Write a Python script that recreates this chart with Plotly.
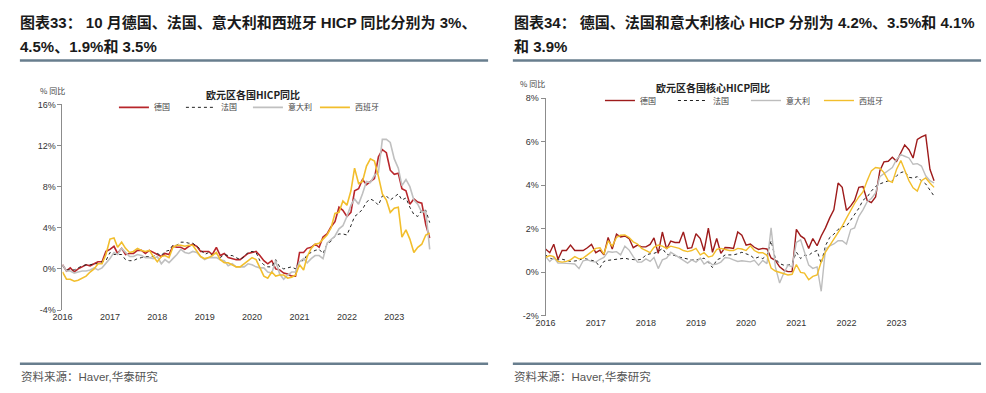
import pandas as pd
import plotly.graph_objects as go

dates = pd.date_range("2016-01-01", periods=94, freq="MS").strftime("%Y-%m-%d").tolist()

# ---- HICP yoy (%), left panel ----
de_hicp = [0.4, -0.2, 0.1, -0.3, 0.0, 0.2, 0.4, 0.3, 0.5, 0.7, 0.7, 1.7,
           1.9, 2.2, 1.5, 2.0, 1.4, 1.5, 1.5, 1.8, 1.8, 1.5, 1.8, 1.6,
           1.4, 1.2, 1.5, 1.4, 2.2, 2.1, 2.1, 1.9, 2.2, 2.4, 2.2, 1.7,
           1.7, 1.7, 1.4, 2.1, 1.3, 1.5, 1.1, 1.0, 0.9, 0.9, 1.2, 1.5,
           1.6, 1.7, 1.3, 0.8, 0.5, 0.8, 0.0, -0.1, -0.4, -0.5, -0.7, -0.7,
           1.6, 1.6, 2.0, 2.1, 2.4, 2.1, 3.1, 3.4, 4.1, 4.6, 6.0, 5.7,
           5.1, 5.5, 7.6, 7.8, 8.7, 8.2, 8.5, 8.8, 10.9, 11.6, 11.3, 9.6,
           9.2, 9.3, 7.8, 7.6, 6.3, 6.8, 6.5, 6.4, 4.3, 3.0]
fr_hicp = [0.3, -0.1, -0.1, -0.1, 0.1, 0.3, 0.4, 0.4, 0.5, 0.5, 0.7, 0.8,
           1.6, 1.4, 1.4, 1.4, 0.9, 0.8, 0.8, 1.0, 1.1, 1.2, 1.2, 1.2,
           1.5, 1.3, 1.7, 1.8, 2.3, 2.3, 2.6, 2.6, 2.5, 2.5, 2.2, 1.9,
           1.4, 1.6, 1.3, 1.5, 1.1, 1.4, 1.3, 1.3, 1.1, 0.9, 1.2, 1.6,
           1.7, 1.6, 0.8, 0.4, 0.2, 0.2, 0.9, 0.2, 0.0, 0.1, 0.2, 0.0,
           0.8, 0.8, 1.4, 1.6, 1.8, 1.9, 1.5, 2.4, 2.7, 3.2, 3.4, 3.4,
           3.3, 4.2, 5.1, 5.4, 5.8, 6.5, 6.8, 6.6, 6.2, 7.1, 7.1, 6.7,
           7.0, 7.3, 6.7, 6.9, 6.0, 5.3, 5.1, 5.7, 5.7, 4.5]
it_hicp = [0.4, -0.2, -0.2, -0.4, -0.3, -0.2, -0.2, -0.1, 0.1, -0.1, 0.1, 0.5,
           1.0, 1.6, 1.4, 2.0, 1.6, 1.2, 1.2, 1.4, 1.3, 1.1, 1.1, 1.0,
           1.2, 0.5, 0.9, 0.6, 1.0, 1.4, 1.9, 1.6, 1.5, 1.7, 1.6, 1.2,
           0.9, 1.1, 1.1, 1.1, 0.9, 0.8, 0.3, 0.5, 0.2, 0.2, 0.2, 0.5,
           0.4, 0.2, 0.1, 0.1, -0.3, -0.4, 0.8, -0.5, -1.0, -0.6, -0.3, -0.3,
           0.7, 1.0, 0.6, 1.0, 1.3, 1.3, 1.0, 2.5, 2.9, 3.2, 3.9, 4.2,
           5.1, 6.2, 6.8, 6.3, 7.3, 8.5, 8.4, 9.1, 9.4, 12.6, 12.6, 12.3,
           10.7, 9.8, 8.1, 8.7, 8.0, 6.7, 6.3, 5.5, 5.6, 1.9]
es_hicp = [-0.3, -1.0, -1.0, -1.2, -1.1, -0.9, -0.7, -0.3, 0.0, 0.5, 0.5, 1.4,
           2.9, 3.0, 2.1, 2.6, 2.0, 1.6, 1.7, 2.0, 1.8, 1.7, 1.8, 1.2,
           0.7, 1.2, 1.3, 1.1, 2.1, 2.3, 2.3, 2.2, 2.3, 2.3, 1.7, 1.2,
           1.0, 1.1, 1.3, 1.6, 0.9, 0.6, 0.6, 0.4, 0.2, 0.2, 0.5, 0.8,
           1.1, 0.9, 0.1, -0.7, -0.9, -0.3, -0.7, -0.6, -0.6, -0.9, -0.8, -0.6,
           0.4, -0.1, 1.2, 2.0, 2.4, 2.5, 2.9, 3.3, 4.0, 5.4, 5.5, 6.6,
           6.2, 7.6, 9.8, 8.3, 8.5, 10.0, 10.7, 10.5, 9.0, 7.3, 6.7, 5.5,
           5.9, 6.0, 3.1, 3.8, 2.9, 1.6, 2.1, 2.4, 3.3, 3.5]

# ---- Core HICP yoy (%), right panel ----
de_core = [1.07, 0.9, 1.29, 0.6, 1.0, 1.0, 1.25, 1.0, 1.0, 1.0, 1.13, 1.28,
           0.9, 1.02, 0.8, 1.6, 1.07, 1.75, 1.62, 1.67, 1.55, 1.13, 1.25, 1.17,
           1.17, 1.28, 1.58, 0.87, 1.85, 1.07, 1.43, 1.37, 1.37, 1.85, 1.1, 1.13,
           1.77, 1.55, 0.98, 2.03, 0.92, 1.55, 0.87, 1.14, 1.13, 1.1, 1.85, 1.7,
           1.25, 1.3, 1.15, 1.05, 1.1, 1.07, 0.66, 0.55, 0.25, 0.1, 0.03, 0.03,
           1.97, 1.67, 1.55, 1.1, 1.55, 1.22, 1.67, 2.04, 2.5, 2.87, 4.1, 3.9,
           2.84, 3.05, 3.3, 3.9, 3.94, 3.3, 3.2, 3.46, 4.66, 5.07, 5.1, 5.28,
           5.1, 5.48, 5.85, 5.63, 5.25, 6.1, 6.22, 6.3, 4.73, 4.2]
fr_core = [0.8, 0.65, 0.6, 0.57, 0.6, 0.55, 0.5, 0.52, 0.55, 0.65, 0.6, 0.57,
           0.5, 0.22, 0.5, 0.55, 0.57, 0.6, 0.62, 0.65, 0.6, 0.57, 0.57, 0.6,
           0.8, 0.85, 0.87, 0.95, 1.1, 0.83, 0.8, 0.77, 0.7, 0.65, 0.6, 0.57,
           0.57, 0.6, 0.65, 0.45, 0.22, 0.57, 0.65, 0.8, 0.8, 0.8, 0.85, 0.92,
           0.85, 0.78, 0.63, 0.7, 0.63, 0.78, 1.45, 0.63, 0.4, 0.33, 0.33, 0.4,
           0.93, 0.63, 0.78, 0.78, 0.93, 1.0, 0.4, 1.22, 1.6, 1.75, 1.97, 2.09,
           2.12, 2.42, 2.64, 2.94, 3.31, 3.46, 3.73, 3.94, 4.06, 4.13, 4.2, 4.2,
           4.43, 4.58, 4.63, 4.36, 4.33, 4.39, 4.2, 4.06, 3.76, 3.5]
it_core = [0.72, 0.5, 0.68, 0.42, 0.42, 0.42, 0.4, 0.38, 0.17, 0.53, 0.57, 0.5,
           0.47, 0.6, 0.68, 0.95, 0.92, 0.95, 0.8, 1.2, 1.02, 0.72, 0.47, 0.47,
           0.62, 0.5, 0.68, 0.17, 0.57, 0.65, 0.92, 0.8, 0.68, 0.57, 0.42, 0.57,
           0.47, 0.65, 0.38, 0.5, 0.35, 0.38, 0.47, 0.68, 0.65, 0.57, 0.5, 0.53,
           0.5, 0.48, 0.55, 0.33, 0.55, 0.4, 2.04, 0.25, -0.49, -0.04, 0.33, 0.25,
           1.37, 1.49, 0.93, 0.33, 0.18, 0.25, -0.87, 1.07, 1.22, 1.3, 1.45, 1.45,
           1.3, 1.97, 2.04, 2.57, 2.87, 3.24, 3.39, 3.64, 4.39, 4.54, 4.69, 4.81,
           5.18, 5.4, 5.33, 5.25, 4.96, 4.99, 4.88, 4.43, 4.21, 4.1]
es_core = [0.68, 0.77, 0.72, 0.5, 0.47, 0.5, 0.57, 0.72, 0.62, 0.65, 0.8, 0.95,
           1.1, 1.13, 0.83, 1.45, 1.2, 1.6, 1.7, 1.72, 1.6, 1.4, 1.3, 1.1,
           1.0, 0.9, 1.15, 1.25, 1.2, 1.1, 1.2, 1.15, 1.1, 1.0, 0.95, 1.0,
           1.1, 0.8, 0.9, 0.7, 0.75, 1.05, 1.1, 1.05, 1.0, 1.0, 1.1, 1.07,
           1.0, 1.22, 1.0, 0.9, 0.9, 0.78, 0.2, 0.06, 0.0, -0.04, -0.12, -0.09,
           0.36, 0.0, -0.04, -0.34, -0.19, -0.12, 0.48, 0.93, 1.22, 1.52, 1.82, 2.12,
           2.49, 2.87, 3.16, 3.46, 3.69, 4.21, 4.66, 4.81, 4.78, 4.58, 4.21, 4.13,
           4.73, 5.13, 4.66, 4.21, 3.88, 3.73, 4.21, 4.33, 4.1, 3.9]

names = ["德国", "法国", "意大利", "西班牙"]
year_ticks = [f"{y}-01-01" for y in range(2016, 2024)]
year_labels = [str(y) for y in range(2016, 2024)]
left_yticks = [-4, 0, 4, 8, 12, 16]
right_yticks = [-2, 0, 2, 4, 6, 8]

W, H = 986, 393
def px(x): return x / W
def py(y): return (H - y) / H

CJK = "Noto Sans CJK SC"
LAT = "Liberation Sans, Arial, Noto Sans CJK SC"
GRAY_AX = "#8c8c8c"

fig = go.Figure()

left_styles = [dict(color="#B8262B", width=1.6),
               dict(color="#222222", width=1, dash="dot"),
               dict(color="#C0C0C0", width=1.6),
               dict(color="#F2BE2C", width=1.6)]
right_styles = [dict(color="#9E1B1B", width=1.4),
                dict(color="#222222", width=1, dash="dot"),
                dict(color="#BDBDBD", width=1.4),
                dict(color="#F2BE2C", width=1.4)]

for nm, vals, st in zip(names, [de_hicp, fr_hicp, it_hicp, es_hicp], left_styles):
    fig.add_trace(go.Scatter(x=dates, y=vals, mode="lines", name=nm, line=st,
                             xaxis="x", yaxis="y", legend="legend"))
for nm, vals, st in zip(names, [de_core, fr_core, it_core, es_core], right_styles):
    fig.add_trace(go.Scatter(x=dates, y=vals, mode="lines", name=nm, line=st,
                             xaxis="x2", yaxis="y2", legend="legend2"))

xrange = ["2016-01-01", "2023-12-01"]
tickfont = dict(family=LAT, size=9, color="#333333")

def xlab_axis(domain, anchor):
    return dict(domain=domain, anchor=anchor, type="date", range=xrange,
                tickvals=year_ticks, ticktext=year_labels, showline=False,
                ticks="", showgrid=False, zeroline=False, tickfont=tickfont)

def xline_axis(domain, over, pos):
    return dict(domain=domain, overlaying=over, anchor="free", position=pos,
                type="date", range=xrange, tickvals=year_ticks, showticklabels=False,
                showline=True, linecolor=GRAY_AX, linewidth=1, ticks="outside",
                ticklen=4, tickcolor=GRAY_AX, showgrid=False, zeroline=False)

def yaxis(domain, anchor, rng, tv):
    return dict(domain=domain, anchor=anchor, range=rng, tickvals=tv,
                ticktext=[f"{v}%" for v in tv], showline=True, linecolor=GRAY_AX,
                linewidth=1, ticks="outside", ticklen=4, tickcolor=GRAY_AX,
                showgrid=False, zeroline=False, tickfont=tickfont)

ldom_x = [px(53), px(432)]
ldom_y = [py(313), py(102)]
rdom_x = [px(541), px(942)]
rdom_y = [py(319), py(95.5)]

fig.update_layout(
    width=W, height=H, margin=dict(l=0, r=0, t=0, b=0),
    paper_bgcolor="white", plot_bgcolor="white",
    xaxis=xlab_axis(ldom_x, "y"),
    yaxis=yaxis(ldom_y, "x", [-4, 16], left_yticks),
    xaxis2=xlab_axis(rdom_x, "y2"),
    yaxis2=yaxis(rdom_y, "x2", [-2, 8], right_yticks),
    xaxis3=xline_axis(ldom_x, "x", py(270.5)),
    xaxis4=xline_axis(rdom_x, "x2", py(274.3)),
    legend=dict(orientation="h", x=px(105), y=py(105), xanchor="left", yanchor="middle",
                font=dict(family=CJK, size=8, color="#444444"), itemwidth=30,
                entrywidth=22, bgcolor="rgba(0,0,0,0)", tracegroupgap=0),
    legend2=dict(orientation="h", x=px(596), y=py(98), xanchor="left", yanchor="middle",
                 font=dict(family=CJK, size=8, color="#444444"), itemwidth=30,
                 entrywidth=28, bgcolor="rgba(0,0,0,0)", tracegroupgap=0),
    showlegend=True,
)

ann = []
def text(x, y, s, size, color="#222222", family=CJK, xanchor="left"):
    ann.append(dict(x=px(x), y=py(y), xref="paper", yref="paper", text=s, showarrow=False,
                    xanchor=xanchor, yanchor="middle", align=xanchor if xanchor != "center" else "center",
                    font=dict(family=family, size=size, color=color)))

HF = "Liberation Sans, Arial, Noto Sans CJK SC"
text(8, 18, "<b>图表33： 10 月德国、法国、意大利和西班牙 HICP 同比分别为 3%、</b>", 15, "#1a1a1a", HF)
text(8, 43, "<b>4.5%、1.9%和 3.5%</b>", 15, "#1a1a1a", HF)
text(507, 18, "<b>图表34： 德国、法国和意大利核心 HICP 分别为 4.2%、3.5%和 4.1%</b>", 15, "#1a1a1a", HF)
text(507, 43, "<b>和 3.9%</b>", 15, "#1a1a1a", HF)

text(245, 92, "<b>欧元区各国HICP同比</b>", 10, "#222222", CJK, "center")
text(710, 85, "<b>欧元区各国核心HICP同比</b>", 10, "#222222", CJK, "center")

text(28, 88, "% 同比", 8, "#444444")
text(513, 81, "% 同比", 8, "#444444")

text(9, 381, "资料来源：Haver,华泰研究", 11.5, "#555555", HF)
text(507, 381, "资料来源：Haver,华泰研究", 11.5, "#555555", HF)
fig.update_layout(annotations=ann)

shapes = []
for (x0, x1) in [(10, 483), (508, 981)]:
    for y in [57, 368]:
        shapes.append(dict(type="line", xref="paper", yref="paper", x0=px(x0), x1=px(x1),
                           y0=py(y), y1=py(y), line=dict(color="#687E8E", width=2.5)))
fig.update_layout(shapes=shapes)

fig.write_html("out.html", config={"displayModeBar": False},
               post_script="document.body.style.margin='0';document.body.style.overflow='hidden';")
